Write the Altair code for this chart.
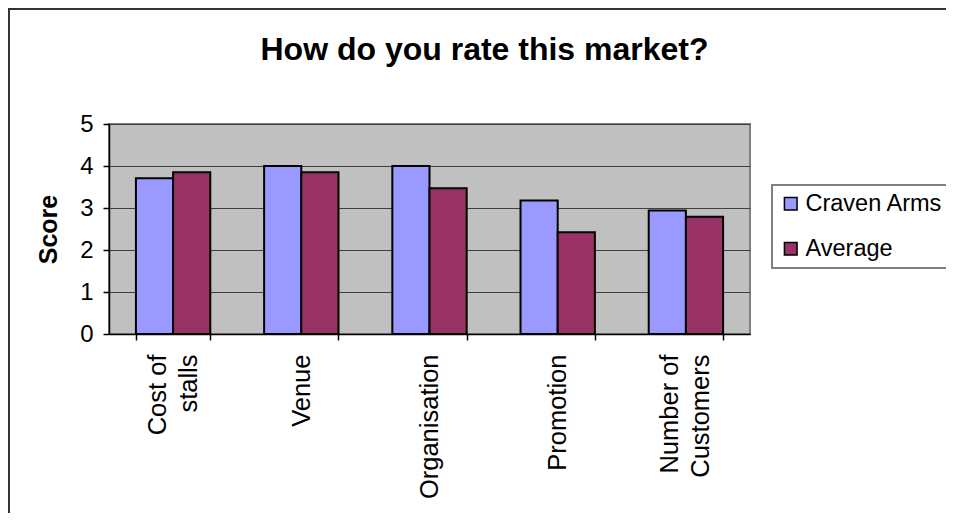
import altair as alt
import pandas as pd

categories = ["Cost of\nstalls", "Venue", "Organisation", "Promotion", "Number of\nCustomers"]
series = ["Craven Arms", "Average"]
craven_arms = [3.71, 4.0, 4.0, 3.18, 2.94]
average = [3.85, 3.85, 3.47, 2.42, 2.79]
y_ticks = [0, 1, 2, 3, 4, 5]
colors = ["#9999FF", "#993366"]

rows = []
for c, a, b in zip(categories, craven_arms, average):
    rows.append({"category": c, "series": series[0], "score": a})
    rows.append({"category": c, "series": series[1], "score": b})
df = pd.DataFrame(rows)

FONT = "Liberation Sans"

frame = alt.Chart(pd.DataFrame({"k": [0]})).mark_rect(
    fill=None, stroke="#333333", strokeWidth=2
).encode(
    x=alt.value(-100), x2=alt.value(2000), y=alt.value(-115), y2=alt.value(2000)
)

bars = alt.Chart(df).mark_bar(stroke="black", strokeWidth=2).encode(
    x=alt.X(
        "category:N", sort=categories, title=None,
        scale=alt.Scale(paddingInner=0.42, paddingOuter=0.21),
        axis=alt.Axis(
            labelAngle=-90, labelExpr="split(datum.label, '\\n')",
            labelFontSize=25.5, labelLineHeight=31, labelPadding=14,
            labelOffset={"condition": {"test": "indexof(datum.label, '\\n') >= 0",
                                       "value": -16}, "value": 0},
            tickBand="extent", tickSize=6, tickColor="black", tickWidth=1.5,
            domainColor="black", domainWidth=1.5, labelColor="black", grid=False,
        ),
    ),
    xOffset=alt.XOffset("series:N", sort=series,
                        scale=alt.Scale(paddingInner=0, paddingOuter=0)),
    y=alt.Y(
        "score:Q", scale=alt.Scale(domain=[0, 5]),
        axis=alt.Axis(
            values=y_ticks, title="Score", titleFontSize=25, titleFontWeight="bold",
            titleColor="black", titlePadding=18, labelFontSize=24, labelColor="black",
            labelPadding=10, tickSize=6, tickColor="black", tickWidth=1.5,
            domainColor="black", domainWidth=1.5, grid=True, gridColor="#404040",
            gridWidth=1, format="d",
        ),
    ),
    color=alt.Color(
        "series:N", sort=series,
        scale=alt.Scale(domain=series, range=colors),
        legend=alt.Legend(title=None, orient="none", legendX=663, legendY=61),
    ),
)

chart = alt.layer(frame, bars).properties(
    width=641, height=210,
    autosize=alt.AutoSizeParams(type="none"),
    padding={"left": 101, "top": 116, "right": 196, "bottom": 179},
    title=alt.TitleParams(
        "How do you rate this market?", fontSize=32, fontWeight="bold",
        color="black", anchor="middle", frame="group", dx=55,
        baseline="alphabetic", offset=-84,
    ),
).configure(font=FONT).configure_view(
    fill="#C0C0C0", stroke="#808080", strokeWidth=2
).configure_legend(
    strokeColor="#808080", strokeWidth=2, fillColor="white", padding=7,
    symbolType="square", symbolSize=160, symbolStrokeColor="black",
    symbolStrokeWidth=1.5, labelFontSize=23.5, labelColor="black",
    labelOffset=3, rowPadding=20,
)

chart.save("out.html", embed_options={"renderer": "svg", "actions": False})
